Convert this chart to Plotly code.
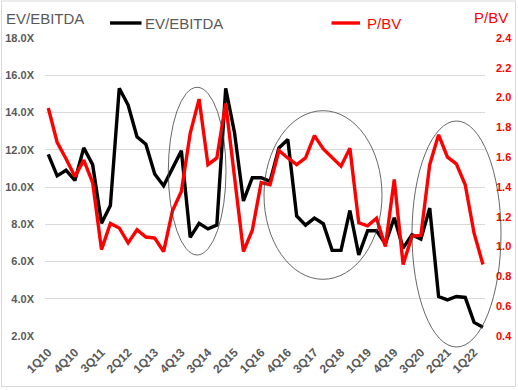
import plotly.graph_objects as go

quarters = [f"{q}Q{y:02d}" for y in range(10, 23) for q in range(1, 5)][:50]

ev_ebitda = [11.75, 10.6, 10.9, 10.35, 12.1, 11.2, 8.05, 9.0, 15.3, 14.4, 12.7, 12.3,
             10.7, 10.07, 11.0, 11.95, 7.3, 8.05, 7.75, 7.95, 15.3, 12.9, 9.25, 10.5,
             10.5, 10.3, 12.1, 12.55, 8.45, 7.95, 8.33, 8.03, 6.6, 6.6, 8.74, 6.36,
             7.65, 7.65, 6.95, 8.35, 6.72, 7.44, 7.2, 8.87, 4.12, 3.94, 4.12, 4.07,
             2.73, 2.47]

p_bv = [1.93, 1.70, 1.59, 1.47, 1.58, 1.43, 0.98, 1.155, 1.125, 1.025, 1.113, 1.064,
        1.057, 0.967, 1.24, 1.37, 1.76, 1.99, 1.55, 1.595, 1.96, 1.47, 0.967, 1.11,
        1.43, 1.415, 1.645, 1.595, 1.55, 1.595, 1.745, 1.655, 1.595, 1.54, 1.66, 1.16,
        1.14, 1.19, 1.0, 1.45, 0.88, 1.07, 1.075, 1.55, 1.75, 1.6, 1.555, 1.415,
        1.09, 0.88]

tick_labels = quarters[::3]
left_ticks = [2, 4, 6, 8, 10, 12, 14, 16, 18]
right_ticks = [0.4, 0.6, 0.8, 1.0, 1.2, 1.4, 1.6, 1.8, 2.0, 2.2, 2.4]

FONT = "Liberation Sans, Arial, sans-serif"
GRAY = "#595959"
RED = "#FF0000"

fig = go.Figure()
fig.add_trace(go.Scatter(x=quarters, y=ev_ebitda, mode="lines", name="EV/EBITDA",
                         line=dict(color="#000000", width=3.4), yaxis="y"))
fig.add_trace(go.Scatter(x=quarters, y=p_bv, mode="lines", name="P/BV",
                         line=dict(color=RED, width=3.4), yaxis="y2"))

L, R, T, B = 45, 33, 38, 54
W, H = 518, 390
pw, ph = W - L - R, H - T - B

def px(xp):
    return (xp - L) / pw

def py(yp):
    return (H - B - yp) / ph

ellipses = [(168.3, 226, 87.3, 255), (264, 382, 110.7, 279.3), (412, 501, 121, 347)]
shapes = []
for x0, x1, y0, y1 in ellipses:
    shapes.append(dict(type="circle", xref="paper", yref="paper",
                       x0=px(x0), x1=px(x1), y0=py(y1), y1=py(y0),
                       line=dict(color="#404040", width=0.8), layer="above"))
shapes.append(dict(type="rect", xref="paper", yref="paper",
                   x0=px(1.5), x1=px(515.5), y0=py(386.5), y1=py(1),
                   line=dict(color="#D9D9D9", width=1)))
# legend samples
shapes.append(dict(type="line", xref="paper", yref="paper",
                   x0=px(110), x1=px(141.5), y0=py(23), y1=py(23),
                   line=dict(color="#000000", width=3.4)))
shapes.append(dict(type="line", xref="paper", yref="paper",
                   x0=px(331.5), x1=px(360), y0=py(23), y1=py(23),
                   line=dict(color=RED, width=3.4)))

fig.update_layout(
    width=W, height=H,
    margin=dict(l=L, r=R, t=T, b=B, autoexpand=False),
    paper_bgcolor="white", plot_bgcolor="white",
    font=dict(family=FONT, color=GRAY),
    showlegend=False,
    xaxis=dict(type="category", range=[-0.37, 49.23], tickmode="array",
               tickvals=tick_labels, ticktext=tick_labels, tickangle=-45,
               tickfont=dict(size=12, color=GRAY, family=FONT, weight="bold"),
               showgrid=False, showline=False, zeroline=False, ticks="",
               ticklabelstandoff=6),
    yaxis=dict(range=[2, 18], tickmode="array", tickvals=left_ticks,
               ticktext=[f"{v:.1f}X" for v in left_ticks],
               tickfont=dict(size=11, color=GRAY, family=FONT, weight="bold"),
               showgrid=True, gridcolor="#D9D9D9", gridwidth=1.4,
               zeroline=False, showline=False, ticks="", ticklabelstandoff=10),
    yaxis2=dict(range=[0.4, 2.4], overlaying="y", side="right", tickmode="array",
                tickvals=right_ticks, ticktext=[f"{v:.1f}" for v in right_ticks],
                tickfont=dict(size=11, color=RED, family=FONT, weight="bold"),
                showgrid=False, zeroline=False, showline=False, ticks="",
                ticklabelstandoff=10),
    shapes=shapes,
    annotations=[
        dict(text="EV/EBITDA", xref="paper", yref="paper", x=px(4), y=py(18),
             xanchor="left", yanchor="middle", showarrow=False,
             font=dict(size=15, color=GRAY, family=FONT)),
        dict(text="P/BV", xref="paper", yref="paper", x=px(510), y=py(17.5),
             xanchor="right", yanchor="middle", showarrow=False,
             font=dict(size=15, color=RED, family=FONT)),
        dict(text="EV/EBITDA", xref="paper", yref="paper", x=px(143), y=py(23.5),
             xanchor="left", yanchor="middle", showarrow=False,
             font=dict(size=15, color=GRAY, family=FONT)),
        dict(text="P/BV", xref="paper", yref="paper", x=px(365), y=py(23.5),
             xanchor="left", yanchor="middle", showarrow=False,
             font=dict(size=15, color=RED, family=FONT)),
    ],
)

fig.write_html("out.html", config={"displayModeBar": False},
               post_script="document.body.style.margin='0';document.body.style.overflow='hidden';")
